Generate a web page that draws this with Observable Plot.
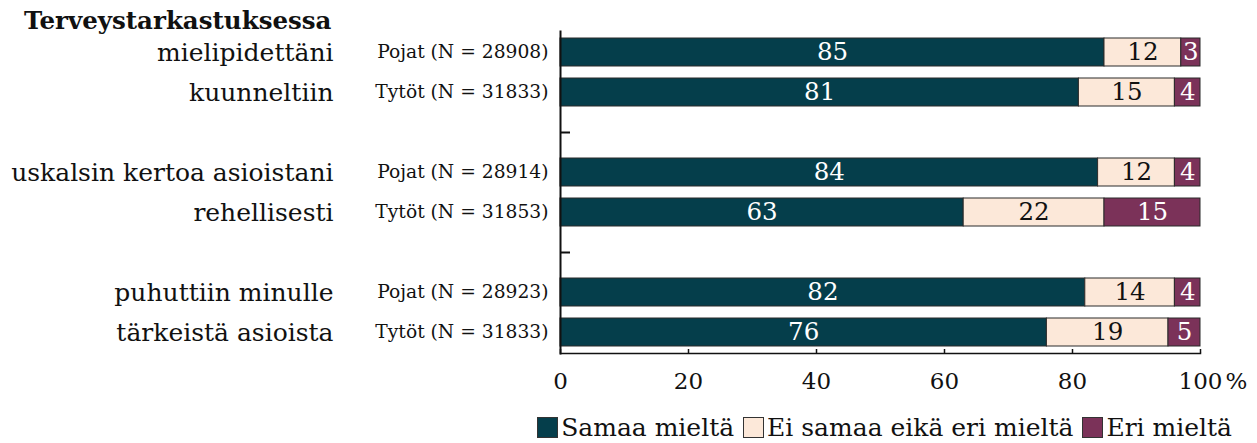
<!DOCTYPE html>
<html><head><meta charset="utf-8">
<script src="https://cdn.jsdelivr.net/npm/d3@7"></script>
<script src="https://cdn.jsdelivr.net/npm/@observablehq/plot@0.6"></script>
<style>
body{margin:0;background:#fff;font-family:"DejaVu Serif",serif;color:#111;}
#legend{display:flex;justify-content:flex-end;align-items:center;padding-right:25px;margin-top:12px;height:30px;font-size:25px;}
.item{display:flex;align-items:center;margin-left:9px;white-space:nowrap}
.sw{width:19px;height:19px;border:1px solid #333;margin-right:3px}
</style></head><body><div id="chart"></div><div id="legend"></div>
<script>
const categories = ["Samaa mieltä", "Ei samaa eikä eri mieltä", "Eri mieltä"];
const colors = ["#053E4B", "#FCE8D9", "#7B3259"];
const title = "Terveystarkastuksessa";
const statementLines = [["mielipidettäni", "kuunneltiin"], ["uskalsin kertoa asioistani", "rehellisesti"], ["puhuttiin minulle", "tärkeistä asioista"]];
const genders = ["Pojat", "Tytöt"];
const nCounts = [[28908, 31833], [28914, 31853], [28923, 31833]];
const samaa = [[85, 81], [84, 63], [82, 76]];
const eiSamaa = [[12, 15], [12, 22], [14, 19]];
const eri = [[3, 4], [4, 15], [4, 5]];
const xTicks = [0, 20, 40, 60, 80, 100];

const series = [samaa, eiSamaa, eri];
const rowKey = (s, g) => `r${s}-${g}`;
const gapKeys = ["gap0", "gap1"];
const domain = [];
statementLines.forEach((_, s) => {
  genders.forEach((_, g) => domain.push(rowKey(s, g)));
  if (s < gapKeys.length) domain.push(gapKeys[s]);
});
const data = [];
categories.forEach((c, ci) => statementLines.forEach((_, s) => genders.forEach((_, g) =>
  data.push({row: rowKey(s, g), category: c, ci, value: series[ci][s][g]}))));
const rows = [];
statementLines.forEach((lines, s) => genders.forEach((gn, g) =>
  rows.push({row: rowKey(s, g), label: `${gn} (N = ${nCounts[s][g]})`, line: lines[g]})));

const chart = Plot.plot({
  width: 1257, height: 400,
  marginLeft: 560, marginRight: 57, marginTop: 31, marginBottom: 47,
  style: {fontFamily: "DejaVu Serif", fontSize: "18px", color: "#111", background: "#fff"},
  x: {domain: [0, 100]},
  y: {domain, paddingInner: 0.3, paddingOuter: 0.15},
  color: {domain: categories, range: colors},
  marks: [
    Plot.barX(data, Plot.stackX({x: "value", y: "row", fill: "category", stroke: "#2a2a2a", strokeWidth: 1})),
    Plot.text(data, Plot.stackX({x: "value", y: "row", z: "category", text: d => d.ci === 1 ? null : d.value, fill: "white", fontSize: 24.5})),
    Plot.text(data, Plot.stackX({x: "value", y: "row", z: "category", text: d => d.ci === 1 ? d.value : null, fill: "#111", fontSize: 24.5})),
    Plot.frame({anchor: "left", strokeWidth: 2}),
    Plot.frame({anchor: "bottom", strokeWidth: 1.5}),
    Plot.axisX({ticks: xTicks, tickSize: 4, dy: -4, tickFormat: () => "", label: null, strokeWidth: 1.5}),
    Plot.axisX({ticks: xTicks, tickSize: 0, tickPadding: 19, fontSize: 23, label: null}),
    Plot.text(["%"], {x: () => 100, text: d => d, frameAnchor: "bottom", lineAnchor: "top", dy: 19, dx: 25, textAnchor: "start", fontSize: 23}),
    Plot.axisY({ticks: gapKeys, tickSize: 10, dx: 10, tickFormat: () => "", label: null, strokeWidth: 2}),
    Plot.text(rows, {y: "row", text: "label", frameAnchor: "left", textAnchor: "end", dx: -12, fontSize: 18.7}),
    Plot.text(rows, {y: "row", text: "line", frameAnchor: "left", textAnchor: "end", dx: -227, fontSize: 25}),
    Plot.text([title], {text: d => d, frameAnchor: "top-left", textAnchor: "end", lineAnchor: "middle", dy: -10, dx: -229, fontSize: 24.5, fontWeight: "bold"})
  ]
});
document.getElementById("chart").append(chart);

const legend = document.getElementById("legend");
categories.forEach((c, i) => {
  const item = document.createElement("div");
  item.className = "item";
  const sw = document.createElement("span");
  sw.className = "sw";
  sw.style.background = colors[i];
  const t = document.createElement("span");
  t.textContent = c;
  item.append(sw, t);
  legend.append(item);
});
</script>
</body></html>
